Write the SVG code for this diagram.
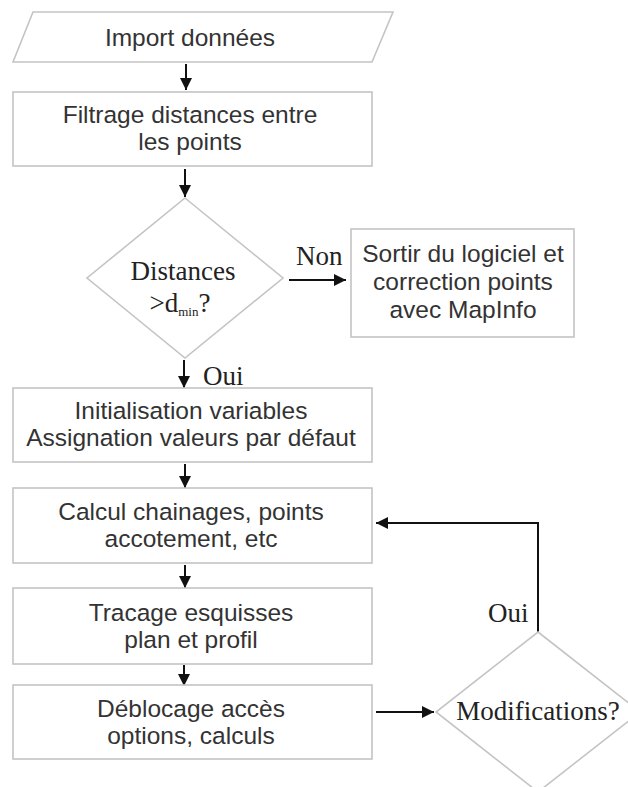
<svg xmlns="http://www.w3.org/2000/svg" width="628" height="787" viewBox="0 0 628 787">
  <defs>
    <marker id="head" markerUnits="userSpaceOnUse" markerWidth="12" markerHeight="12" refX="12" refY="6" orient="auto">
      <path d="M0,0 L12,6 L0,12 z" fill="#111"/>
    </marker>
    <style>
      .shape { fill: #fff; stroke: #c4c4c4; stroke-width: 1.6; }
      .sans { font-family: "Liberation Sans", Arial, sans-serif; font-size: 24.5px; fill: #333; text-anchor: middle; }
      .serif { font-family: "Liberation Serif", "Times New Roman", serif; font-size: 27px; fill: #222; }
      .mid { text-anchor: middle; }
      .link { fill: none; stroke: #111; stroke-width: 2; }
      .arrow { marker-end: url(#head); }
    </style>
  </defs>
  <rect width="628" height="787" fill="#fff"/>

  <!-- connectors -->
  <g id="connectors">
    <line class="link arrow" x1="186" y1="64" x2="186" y2="90"/>
    <line class="link arrow" x1="185" y1="169" x2="185" y2="197"/>
    <line class="link arrow" x1="289" y1="280" x2="346" y2="280"/>
    <line class="link arrow" x1="184" y1="360" x2="184" y2="388"/>
    <line class="link arrow" x1="185" y1="464" x2="185" y2="488"/>
    <line class="link arrow" x1="185" y1="565" x2="185" y2="588"/>
    <line class="link arrow" x1="184" y1="665" x2="184" y2="686"/>
    <line class="link arrow" x1="376" y1="712" x2="434" y2="712"/>
    <polyline class="link arrow" points="538,632 538,523 376,523"/>
    <text class="serif" x="296" y="265">Non</text>
    <text class="serif" x="203" y="385" font-size="26">Oui</text>
    <text class="serif" x="488" y="622" font-size="26">Oui</text>
  </g>

  <!-- input -->
  <g id="import">
    <polygon class="shape" points="33,12 393,12 372,62 13,62"/>
    <text class="sans" x="190" y="46">Import données</text>
  </g>

  <g id="filtrage">
    <rect class="shape" x="13" y="92" width="359" height="74"/>
    <text class="sans" x="190" y="123">Filtrage distances entre</text>
    <text class="sans" x="190" y="150">les points</text>
  </g>

  <g id="test-distances">
    <polygon class="shape" points="185,198 283,278 185,358 87,278"/>
    <text class="serif mid" x="183" y="280">Distances</text>
    <text class="serif mid" x="180" y="312">&gt;d<tspan font-size="13" dy="4">min</tspan><tspan dy="-4">?</tspan></text>
  </g>

  <g id="sortir">
    <rect class="shape" x="351" y="229" width="223" height="108"/>
    <text class="sans" x="463" y="262">Sortir du logiciel et</text>
    <text class="sans" x="463" y="290">correction points</text>
    <text class="sans" x="463" y="318">avec MapInfo</text>
  </g>

  <g id="initialisation">
    <rect class="shape" x="13" y="388" width="359" height="74"/>
    <text class="sans" x="191" y="419">Initialisation variables</text>
    <text class="sans" x="191" y="446">Assignation valeurs par défaut</text>
  </g>

  <g id="calcul">
    <rect class="shape" x="13" y="488" width="359" height="75"/>
    <text class="sans" x="191" y="520">Calcul chainages, points</text>
    <text class="sans" x="191" y="547">accotement, etc</text>
  </g>

  <g id="tracage">
    <rect class="shape" x="13" y="588" width="359" height="76"/>
    <text class="sans" x="191" y="621">Tracage esquisses</text>
    <text class="sans" x="191" y="648">plan et profil</text>
  </g>

  <g id="deblocage">
    <rect class="shape" x="13" y="685" width="359" height="74"/>
    <text class="sans" x="191" y="717">Déblocage accès</text>
    <text class="sans" x="191" y="744">options, calculs</text>
  </g>

  <g id="test-modifications">
    <polygon class="shape" points="538,632 640,712 538,792 436,712"/>
    <text class="serif mid" x="538" y="720" font-size="26">Modifications?</text>
  </g>
</svg>
